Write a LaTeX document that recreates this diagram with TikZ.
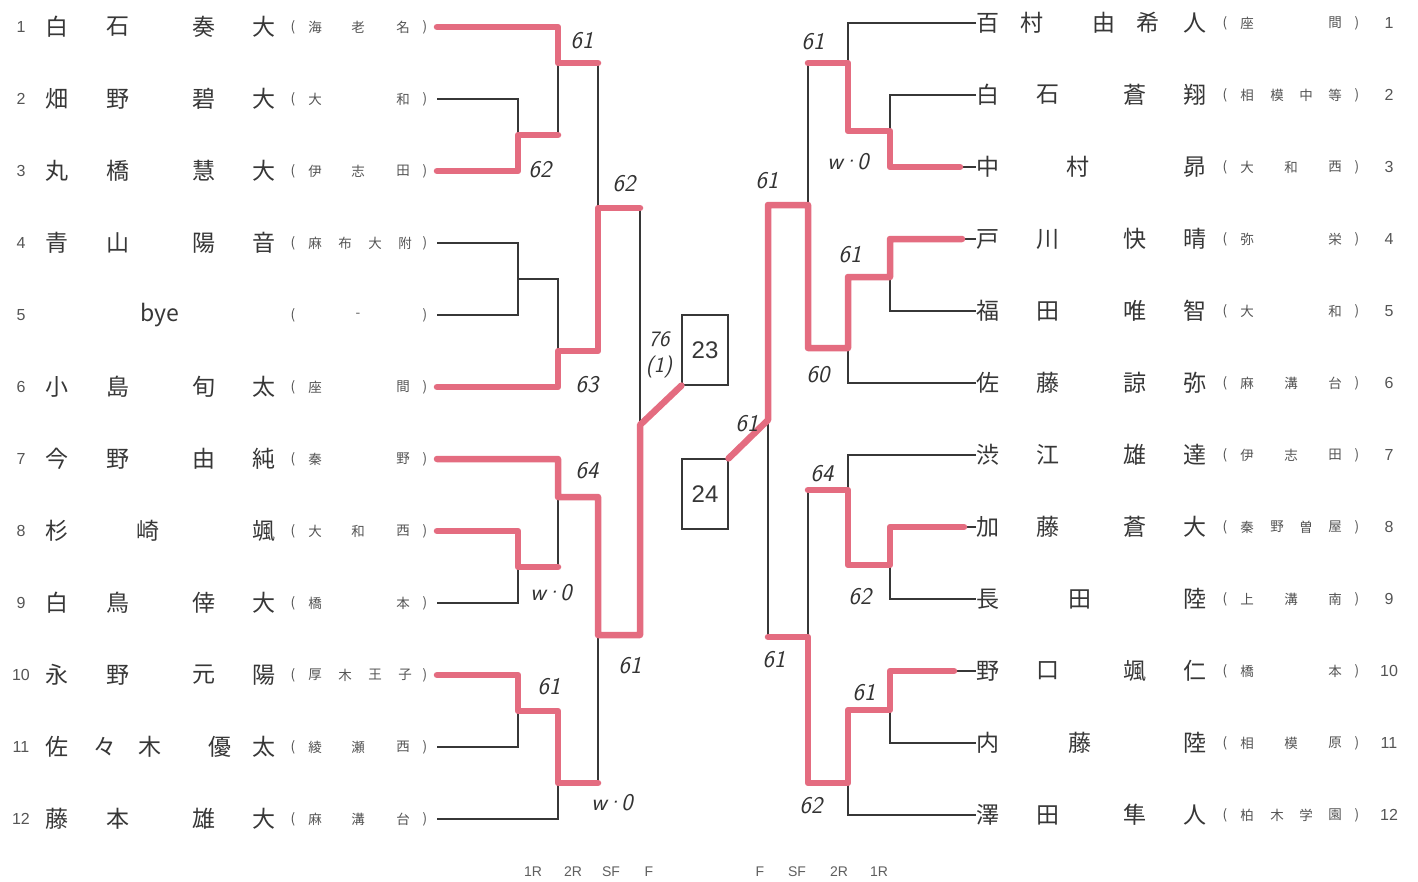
\documentclass[tikz,border=0pt]{standalone}
\usepackage{fontspec}
\newfontfamily\jp{Noto Sans CJK JP}
\newfontfamily\arial{Liberation Sans}
\usetikzlibrary{calc}

\definecolor{marker}{RGB}{228,108,128}
\definecolor{ink}{RGB}{55,55,55}

\tikzset{
  namech/.style={font=\jp\fontsize{23}{23}\selectfont, text=ink, inner sep=0pt},
  affch/.style={font=\jp\fontsize{13.5}{13.5}\selectfont, text=ink!85, inner sep=0pt},
  seed/.style={font=\arial\fontsize{16}{16}\selectfont, text=ink!85, inner sep=0pt},
  bline/.style={draw=ink, line width=1.1pt},
  win/.style={draw=marker, line width=6.5pt, line join=round, line cap=round},
  score/.style={font=\sffamily\itshape\fontsize{24}{24}\selectfont, text=black!80, inner sep=0pt},
  drawbox/.style={draw=ink, line width=1.1pt, minimum width=46pt, minimum height=70pt,
    inner sep=0pt, font=\arial\fontsize{24}{24}\selectfont, text=ink},
  rlabel/.style={font=\arial\fontsize{14}{14}\selectfont, text=ink!80, inner sep=0pt}
}

% one player row on the left: seed, y, name chars, school chars
\newcommand{\leftrow}[4]{%
  \node[seed] (ls#1) at (21,#2) {#1};
  \foreach \px/\ch [count=\k] in {#3} \node[namech] (ln#1-\k) at (\px,#2) {\ch};
  \node[affch] (lo#1) at (293,#2) {(};
  \foreach \px/\ch [count=\k] in {#4} \node[affch] (la#1-\k) at (\px,#2) {\ch};
  \node[affch] (lc#1) at (425,#2) {)};
  \coordinate (L#1) at (437,#2);}
% one player row on the right
\newcommand{\rightrow}[4]{%
  \coordinate (R#1) at (976,#2);
  \foreach \px/\ch [count=\k] in {#3} \node[namech] (rn#1-\k) at (\px,#2) {\ch};
  \node[affch] (ro#1) at (1225,#2) {(};
  \foreach \px/\ch [count=\k] in {#4} \node[affch] (ra#1-\k) at (\px,#2) {\ch};
  \node[affch] (rc#1) at (1357,#2) {)};
  \node[seed] (rs#1) at (1389,#2) {#1};}
% walkover mark
\newcommand{\wo}{w\kern-1.5pt·\kern-1.5pt0}

\begin{document}
\begin{tikzpicture}[x=1pt,y=-1pt]
    \useasboundingbox[fill=white] (0,0) rectangle (1418,881);
    % Left players
    \leftrow{1}{27}{57/白,118/石,204/奏,264/大}{315/海,358/老,403/名}
    \leftrow{2}{99}{57/畑,118/野,204/碧,264/大}{315/大,403/和}
    \leftrow{3}{171}{57/丸,118/橋,204/慧,264/大}{315/伊,358/志,403/田}
    \leftrow{4}{243}{57/青,118/山,204/陽,264/音}{315/麻,345/布,375/大,405/附}
    \leftrow{5}{315}{160/bye}{358/-}
    \leftrow{6}{387}{57/小,118/島,204/旬,264/太}{315/座,403/間}
    \leftrow{7}{459}{57/今,118/野,204/由,264/純}{315/秦,403/野}
    \leftrow{8}{531}{57/杉,148/崎,264/颯}{315/大,358/和,403/西}
    \leftrow{9}{603}{57/白,118/鳥,204/倖,264/大}{315/橋,403/本}
    \leftrow{10}{675}{57/永,118/野,204/元,264/陽}{315/厚,345/木,375/王,405/子}
    \leftrow{11}{747}{57/佐,105/々,150/木,220/優,264/太}{315/綾,358/瀬,403/西}
    \leftrow{12}{819}{57/藤,118/本,204/雄,264/大}{315/麻,358/溝,403/台}
    % Right players
    \rightrow{1}{23}{988/百,1032/村,1104/由,1148/希,1195/人}{1247/座,1335/間}
    \rightrow{2}{95}{988/白,1048/石,1135/蒼,1195/翔}{1247/相,1277/模,1306/中,1335/等}
    \rightrow{3}{167}{988/中,1078/村,1195/昴}{1247/大,1291/和,1335/西}
    \rightrow{4}{239}{988/戸,1048/川,1135/快,1195/晴}{1247/弥,1335/栄}
    \rightrow{5}{311}{988/福,1048/田,1135/唯,1195/智}{1247/大,1335/和}
    \rightrow{6}{383}{988/佐,1048/藤,1135/諒,1195/弥}{1247/麻,1291/溝,1335/台}
    \rightrow{7}{455}{988/渋,1048/江,1135/雄,1195/達}{1247/伊,1291/志,1335/田}
    \rightrow{8}{527}{988/加,1048/藤,1135/蒼,1195/大}{1247/秦,1277/野,1306/曽,1335/屋}
    \rightrow{9}{599}{988/長,1080/田,1195/陸}{1247/上,1291/溝,1335/南}
    \rightrow{10}{671}{988/野,1048/口,1135/颯,1195/仁}{1247/橋,1335/本}
    \rightrow{11}{743}{988/内,1080/藤,1195/陸}{1247/相,1291/模,1335/原}
    \rightrow{12}{815}{988/澤,1048/田,1135/隼,1195/人}{1247/柏,1277/木,1306/学,1335/園}
    % Junctions
    \coordinate (m23) at (518,135);   \coordinate (m45) at (518,279);
    \coordinate (m89) at (518,567);   \coordinate (m1011) at (518,711);
    \coordinate (m1) at (558,63);     \coordinate (m456) at (558,351);
    \coordinate (m7) at (558,497);    \coordinate (m12) at (558,783);
    \coordinate (sfA) at (598,208);   \coordinate (sfB) at (598,635);
    \coordinate (fL) at (640,425);
    \coordinate (rm23) at (890,131);  \coordinate (rm45) at (890,277);
    \coordinate (rm89) at (890,565);  \coordinate (rm1011) at (890,710);
    \coordinate (rm1) at (848,63);    \coordinate (rm456) at (848,348);
    \coordinate (rm7) at (848,490);   \coordinate (rm12) at (848,783);
    \coordinate (rsfA) at (808,205);  \coordinate (rsfB) at (808,637);
    \coordinate (fR) at (768,420);
    % Final boxes
    \node[drawbox] (b23) at (705,350) {23};
    \node[drawbox] (b24) at (705,494) {24};
    % Left bracket
    \draw[bline] (L2) -| (m23) |- (L3);
    \draw[bline] (L1) -| (m1) |- (m23);
    \draw[bline] (L4) -| (m45) |- (L5);
    \draw[bline] (m45) -| (m456) |- (L6);
    \draw[bline] (m1) -| (sfA) |- (m456);
    \draw[bline] (L8) -| (m89) |- (L9);
    \draw[bline] (L7) -| (m7) |- (m89);
    \draw[bline] (L10) -| (m1011) |- (L11);
    \draw[bline] (m1011) -| (m12) |- (L12);
    \draw[bline] (m7) -| (sfB) |- (m12);
    \draw[bline] (sfA) -| (fL) |- (sfB);
    % Right bracket
    \draw[bline] (R2) -| (rm23) |- (R3);
    \draw[bline] (R1) -| (rm1) |- (rm23);
    \draw[bline] (R4) -| (rm45) |- (R5);
    \draw[bline] (rm45) -| (rm456) |- (R6);
    \draw[bline] (rm1) -| (rsfA) |- (rm456);
    \draw[bline] (R8) -| (rm89) |- (R9);
    \draw[bline] (R7) -| (rm7) |- (rm89);
    \draw[bline] (R10) -| (rm1011) |- (R11);
    \draw[bline] (rm1011) -| (rm12) |- (R12);
    \draw[bline] (rm7) -| (rsfB) |- (rm12);
    \draw[bline] (rsfA) -| (fR) |- (rsfB);
    % Winners, left
    \draw[win] (L1) -| (m1) -- (m1 -| sfA);
    \draw[win] (L3) -| (m23) -- (m23 -| m1);
    \draw[win] (L6) -| (m456) -| (sfA) -- (sfA -| fL);
    \draw[win] (L7) -| (m7) -| (sfB) -| (fL) -- (b23.south west);
    \draw[win] (L8) -| (m89) -- (m89 -| m7);
    \draw[win] (L10) -| (m1011) -| (m12) -- (m12 -| sfB);
    % Winners, right
    \draw[win, shorten <=16pt] (R3) -| (rm23) -| (rm1) -- (rm1 -| rsfA);
    \draw[win, shorten <=14pt] (R4) -| (rm45) -| (rm456) -| (rsfA) -| (fR) -- (b24.north east);
    \draw[win, shorten <=12pt] (R8) -| (rm89) -| (rm7) -- (rm7 -| rsfB);
    \draw[win, shorten <=22pt] (R10) -| (rm1011) -| (rm12) -| (rsfB) -- (rsfB -| fR);
    % Scores, left
    \node[score] (sl1) at (582,41) {61};
    \node[score] (sl2) at (540,170) {62};
    \node[score] (sl3) at (624,184) {62};
    \node[score] (sl4) at (587,385) {63};
    \node[score, align=center, font=\sffamily\itshape\fontsize{22}{26}\selectfont] (sl5) at (659,355) {76\\(1)};
    \node[score] (sl6) at (587,471) {64};
    \node[score] (sl7) at (551,593) {\wo};
    \node[score] (sl8) at (630,666) {61};
    \node[score] (sl9) at (549,687) {61};
    \node[score] (sl10) at (612,803) {\wo};
    % Scores, right
    \node[score] (sr1) at (813,42) {61};
    \node[score] (sr2) at (848,162) {\wo};
    \node[score] (sr3) at (767,181) {61};
    \node[score] (sr4) at (850,255) {61};
    \node[score] (sr5) at (818,375) {60};
    \node[score] (sr6) at (747,424) {61};
    \node[score] (sr7) at (822,474) {64};
    \node[score] (sr8) at (860,597) {62};
    \node[score] (sr9) at (774,660) {61};
    \node[score] (sr10) at (864,693) {61};
    \node[score] (sr11) at (811,806) {62};
    % Round labels
    \foreach \px/\rd [count=\k] in {533/1R,573/2R,611/SF,649/F}
        \node[rlabel] (rdl\k) at (\px,872) {\rd};
    \foreach \px/\rd [count=\k] in {760/F,797/SF,839/2R,879/1R}
        \node[rlabel] (rdr\k) at (\px,872) {\rd};
\end{tikzpicture}
\end{document}
